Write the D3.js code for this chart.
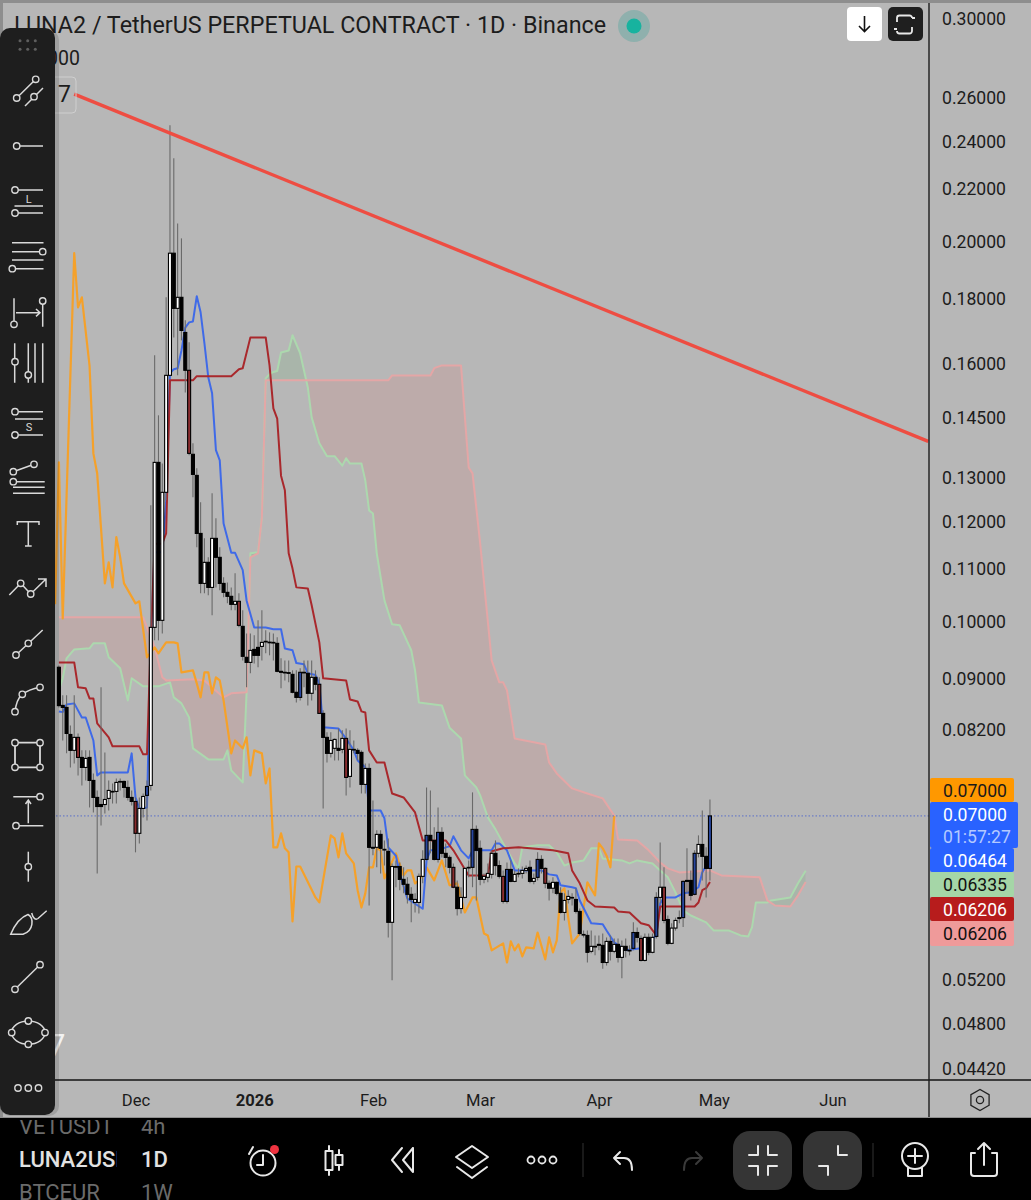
<!DOCTYPE html>
<html>
<head>
<meta charset="utf-8">
<title>LUNA2USDT 1D</title>
<script src="https://cdn.jsdelivr.net/npm/d3@7/dist/d3.min.js"></script>
<style>
html, body { margin: 0; padding: 0; background: #000; }
svg { display: block; font-family: Roboto, sans-serif; }
</style>
</head>
<body>
<div id="chart"></div>
<script>
// every list of days counts from 1 Dec 2025 (day 0)
var firstCandleDay = -20;

var opens = [
  .0918,.08563,.08532,.08121,.07889,.08078,.07788,.07647,.07788,.07468,
  .07240,.07147,.07147,.07227,.07320,.07320,.07454,.07454,.07373,.07240,
  .07187,.06781,.07096,.07267,.07400,.09873,.13339,.10000,.12630,.15634,
  .19535,.17665,.18025,.16906,.15779,.13537,.13026,.11718,.10697,.11116,
  .10619,.11613,.11218,.10697,.10524,.10448,.10296,.10353,.09891,.09348,
  .09262,.09484,.09519,.09536,.09621,.09610,.09606,.09589,.09112,.09096,
  .09090,.09062,.08770,.08689,.09096,.09079,.08754,.09013,.08899,.08439,
  .08078,.07846,.07918,.07918,.07903,.08063,.07523,.07903,.07889,.07860,
  .07414,.07633,.06610,.06610,.06768,.06586,.06562,.05765,.06383,.06383,
  .06235,.06179,.06067,.05978,.05978,.06269,.06466,.06756,.06694,.06466,
  .06793,.06538,.06490,.06373,.06146,.05912,.06033,.06373,.06373,.06830,
  .06598,.06235,.06258,.06292,.06538,.06394,.06269,.05989,.06349,.06212,
  .06303,.06303,.06338,.06373,.06212,.06258,.06466,.06361,.06190,.06135,
  .06201,.06078,.05870,.06011,.06033,.06011,.05881,.05639,.05629,.05468,
  .05518,.05528,.05528,.05358,.05568,.05468,.05538,.05408,.05518,.05478,
  .05498,.05659,.05598,.05378,.05609,.05458,.05619,.06033,.06146,.05795,
  .05548,.05705,.05805,.05815,.06223,.06223,.06067,.06538,.06645,.06502,
  .06361
];
var highs = [
  .0921,.08722,.08722,.08256,.08722,.08136,.07889,.07889,.07889,.07564,
  .07333,.08850,.07860,.07468,.07427,.07496,.07496,.07468,.07468,.07333,
  .07240,.07240,.07293,.07468,.12334,.16215,.14535,.13315,.18025,.24667,
  .23225,.20627,.20071,.17283,.16603,.13810,.13195,.12402,.11613,.11218,
  .12607,.12045,.11424,.10816,.10717,.10619,.10895,.10505,.10184,.09765,
  .09765,.09730,.10000,.10184,.09819,.09783,.09765,.09696,.09331,.09296,
  .09296,.09129,.09129,.09162,.09296,.09296,.09296,.09129,.09013,.08486,
  .08153,.08153,.08063,.08211,.08183,.08211,.08183,.08033,.07918,.07889,
  .07703,.07703,.07200,.06818,.06818,.06694,.06719,.06419,.06454,.06430,
  .06373,.06258,.06146,.06078,.06303,.06574,.07373,.07333,.06856,.07109,
  .06856,.06658,.06514,.06419,.06223,.06146,.06373,.06454,.07307,.06880,
  .06694,.06303,.06419,.06574,.06694,.06454,.06338,.06430,.06454,.06338,
  .06361,.06383,.06394,.06454,.06303,.06550,.06514,.06373,.06223,.06258,
  .06212,.06146,.06078,.06113,.06078,.06135,.05912,.05679,.05679,.05679,
  .05629,.05629,.05649,.05608,.05629,.05598,.05598,.05578,.05598,.05528,
  .05765,.05710,.05629,.05649,.05649,.05649,.06089,.06669,.06373,.05837,
  .05755,.05815,.05892,.06223,.06598,.06338,.06574,.06756,.07070,.06610,
  .07213
];
var lows = [
  .0853,.08033,.07846,.07647,.07703,.07537,.07400,.07468,.07109,.07045,
  .06303,.06880,.07032,.07070,.07160,.07160,.07333,.07240,.07200,.07134,
  .06550,.06658,.06981,.06943,.07333,.09642,.09642,.09765,.12447,.15634,
  .16755,.15634,.16664,.15150,.13515,.12515,.11424,.10505,.10505,.10467,
  .10092,.10619,.10563,.10429,.10315,.10184,.10184,.09873,.09296,.08850,
  .09079,.09245,.09179,.09296,.09416,.09382,.09296,.09096,.08834,.08963,
  .08931,.08754,.08610,.08641,.08850,.08563,.08641,.08802,.08439,.07096,
  .07717,.07788,.07745,.07745,.07846,.07267,.07373,.07846,.07745,.07293,
  .07293,.05945,.06514,.06373,.06303,.06394,.05609,.05186,.06146,.06113,
  .06078,.05967,.05765,.05870,.05859,.06190,.06454,.06538,.06454,.06430,
  .06490,.06373,.06303,.06135,.05837,.05859,.06022,.06258,.06146,.06000,
  .06168,.06190,.06201,.06246,.06280,.06246,.05967,.05967,.06201,.06201,
  .06258,.06246,.06303,.06190,.06179,.06223,.06303,.06135,.06000,.06078,
  .06056,.05859,.05785,.05967,.05945,.05859,.05628,.05609,.05358,.05448,
  .05428,.05478,.05298,.05328,.05378,.05448,.05358,.05206,.05408,.05428,
  .05478,.05558,.05368,.05368,.05428,.05448,.05598,.05967,.05755,.05528,
  .05538,.05679,.05755,.05715,.06078,.06000,.06056,.06490,.06223,.06033,
  .06223
];
var closes = [
  .0856,.08532,.08136,.07889,.08078,.07788,.07647,.07774,.07468,.07240,
  .07121,.07121,.07213,.07333,.07315,.07441,.07450,.07373,.07240,.07187,
  .06781,.07096,.07253,.07386,.09873,.13339,.10000,.12630,.15634,.19535,
  .17665,.18025,.16968,.15779,.13560,.13050,.11718,.10697,.11116,.10619,
  .11613,.11218,.10697,.10524,.10448,.10296,.10353,.09909,.09365,.09262,
  .09467,.09382,.09382,.09606,.09625,.09606,.09600,.09112,.09096,.09090,
  .09079,.08770,.08689,.09096,.09090,.08754,.09013,.08899,.08439,.08078,
  .07846,.08033,.08048,.07889,.08063,.07509,.07903,.07900,.07846,.07414,
  .07633,.06610,.06600,.06768,.06598,.06578,.05765,.06383,.06375,.06235,
  .06179,.06067,.06011,.06011,.06269,.06466,.06756,.06694,.06466,.06793,
  .06538,.06490,.06373,.06146,.05912,.06033,.06361,.06370,.06830,.06574,
  .06235,.06269,.06303,.06538,.06394,.06269,.05989,.06349,.06212,.06292,
  .06300,.06338,.06361,.06212,.06246,.06466,.06361,.06190,.06135,.06201,
  .06078,.05870,.06000,.06044,.06030,.05881,.05649,.05635,.05458,.05518,
  .05515,.05538,.05358,.05568,.05468,.05538,.05408,.05518,.05478,.05475,
  .05659,.05609,.05378,.05609,.05458,.05609,.06033,.06146,.05785,.05548,
  .05705,.05785,.05815,.06212,.06212,.06056,.06538,.06645,.06502,.06361,
  .07000
];
var redDays = [-15, 0, 14, 27, 48, 55, 83, 96, 107, 132, 138];
var blueDays = [3, 43, 76, 79, 88, 97, 105, 130, 136, 143, 146, 150];

// ichimoku lines, [day, price] read at the corners of each line
var conversion = [[-20,.08470],[-19,.08459],[-18,.08579],[-16,.08595],[-14,.08377],[-13,.08377],[-11,.08033],[-10,.07537],[-9,.07578],[-2,.07578],[-1,.07846],[0,.07240],[1,.07096],[3,.07109],[4,.09680],[5,.11320],[7,.11320],[8,.12400],[9,.15700],[10,.15808],[11,.15837],[12,.16360],[13,.17058],[14,.17220],[15,.17250],[16,.18060],[17,.17540],[18,.16570],[19,.15580],[20,.15130],[21,.13640],[22,.13390],[23,.11930],[25,.11310],[26,.11310],[28,.10960],[29,.10370],[31,.09870],[34,.09870],[36,.09840],[38,.09840],[39,.09500],[41,.09470],[42,.09250],[44,.09230],[45,.09080],[47,.09050],[48,.08910],[49,.08230],[53,.08210],[55,.08060],[57,.07890],[58,.07745],[60,.07650],[61,.07070],[64,.07070],[65,.06970],[66,.06610],[68,.06510],[69,.06300],[71,.06020],[75,.05910],[76,.06454],[77,.06574],[79,.06574],[81,.06610],[82,.06622],[83,.06745],[85,.06574],[87,.06478],[88,.06574],[93,.06574],[94,.06658],[95,.06658],[97,.06574],[99,.06338],[106,.06338],[108,.06292],[110,.06280],[111,.06168],[114,.06146],[115,.06135],[116,.06000],[119,.05755],[122,.05745],[123,.05679],[125,.05558],[128,.05478],[132,.05498],[135,.05598],[136,.05629],[137,.05967],[138,.06033],[141,.06033],[143,.06078],[145,.06089],[147,.06146],[148,.06315],[150,.06464]];
var baseLine = [[-20,.09262],[-16,.09262],[-15,.08850],[-13,.08834],[-12,.08673],[-11,.08673],[-10,.08287],[-7,.08078],[-6,.07947],[1,.07947],[2,.07832],[3,.07832],[4,.09680],[5,.11500],[7,.11500],[8,.11720],[9,.15492],[15,.15492],[16,.15610],[25,.15610],[27,.15808],[28,.15837],[30,.16755],[34,.16755],[35,.15920],[36,.14720],[37,.14450],[38,.13020],[39,.12680],[40,.11300],[41,.10990],[42,.10620],[45,.10600],[46,.10280],[48,.09606],[49,.08997],[55,.08963],[56,.08657],[58,.08625],[59,.08470],[60,.08454],[61,.07889],[63,.07717],[65,.07717],[67,.07293],[70,.07240],[73,.07045],[75,.06694],[81,.06694],[83,.06574],[87,.06280],[92,.06280],[93,.06562],[96,.06598],[100,.06610],[109,.06574],[113,.06538],[114,.06338],[116,.06190],[118,.06000],[120,.05934],[125,.05923],[126,.05881],[129,.05870],[132,.05755],[134,.05735],[136,.05629],[137,.05934],[146,.05934],[147,.05978],[148,.06113],[149,.06135],[150,.06206]];
var laggingSpan = [[-21,.10300],[-20,.13339],[-19,.10034],[-16,.19535],[-15,.17694],[-14,.18025],[-12,.15910],[-11,.13560],[-10,.13070],[-8,.10697],[-7,.11116],[-6,.10619],[-5,.11640],[-4,.11218],[-3,.10697],[0,.10315],[1,.10353],[3,.09348],[5,.09519],[6,.09416],[8,.09606],[10,.09606],[11,.09589],[12,.09096],[15,.09129],[16,.08915],[17,.08689],[18,.09096],[19,.09096],[20,.08754],[21,.09013],[22,.08963],[23,.08641],[25,.07846],[26,.08033],[28,.07918],[29,.08078],[30,.07537],[31,.07889],[33,.07846],[34,.07427],[35,.07633],[36,.06610],[37,.06610],[38,.06781],[39,.06598],[40,.06550],[41,.05775],[42,.06383],[43,.06383],[47,.06033],[48,.05978],[51,.06756],[52,.06719],[53,.06490],[54,.06781],[55,.06538],[57,.06419],[58,.06113],[59,.05923],[60,.06078],[61,.06373],[62,.06373],[63,.06598],[64,.06574],[65,.06246],[68,.06538],[70,.06280],[71,.06338],[72,.06338],[73,.06190],[74,.06223],[76,.06373],[78,.06223],[80,.06454],[82,.06168],[84,.06190],[86,.05870],[88,.06033],[89,.06033],[91,.05649],[92,.05629],[93,.05478],[96,.05548],[97,.05358],[98,.05568],[99,.05478],[100,.05538],[101,.05418],[102,.05508],[104,.05498],[105,.05659],[107,.05388],[108,.05609],[109,.05458],[110,.05578],[111,.06089],[112,.06135],[113,.05815],[114,.05548],[116,.05649],[118,.06201],[120,.06056],[121,.06658],[122,.06598],[123,.06510],[124,.06373],[125,.07000]];
var leadingA = [[-20,.08802],[-19,.08997],[-18,.09331],[-16,.09484],[-12,.09502],[-11,.09589],[-8,.09589],[-7,.09348],[-4,.09162],[-2,.08641],[-1,.08997],[2,.08866],[6,.08866],[9,.08931],[10,.08689],[12,.08595],[14,.08377],[15,.07918],[19,.07760],[23,.07760],[24,.07889],[25,.07606],[28,.07441],[29,.08754],[30,.11302],[32,.11322],[33,.12066],[34,.15550],[35,.15670],[36,.15730],[37,.15760],[38,.16300],[40,.16360],[41,.16820],[43,.16270],[45,.15290],[46,.14480],[48,.13810],[50,.13490],[52,.13490],[54,.13260],[55,.13440],[56,.13310],[59,.13310],[60,.12909],[61,.12220],[62,.12150],[63,.11300],[65,.10372],[67,.09930],[69,.09910],[72,.09470],[73,.09129],[74,.08610],[80,.08563],[82,.08222],[85,.08063],[86,.07537],[89,.07373],[90,.07267],[92,.06981],[94,.06830],[96,.06658],[99,.06419],[100,.06361],[101,.06610],[105,.06634],[108,.06634],[110,.06550],[112,.06394],[114,.06430],[117,.06454],[119,.06598],[121,.06598],[122,.06478],[127,.06454],[129,.06419],[131,.06454],[135,.06419],[137,.06338],[139,.06258],[141,.06089],[143,.05892],[145,.05837],[149,.05765],[151,.05679],[155,.05679],[158,.05629],[160,.05619],[161,.05715],[162,.05978],[165,.05978],[166,.06000],[171,.06033],[173,.06190],[175,.06335]];
var leadingB = [[-20,.10055],[2,.10055],[5,.09519],[7,.09013],[8,.08963],[15,.08980],[18,.08963],[23,.08689],[25,.08754],[29,.08770],[30,.11218],[32,.11302],[33,.12066],[34,.15492],[66,.15492],[67,.15630],[77,.15630],[78,.15840],[80,.15920],[85,.15920],[87,.13215],[88,.13075],[90,.11508],[93,.09296],[95,.08931],[96,.08931],[97,.08802],[99,.08063],[107,.07975],[108,.07717],[110,.07564],[114,.07360],[118,.07293],[122,.07227],[125,.07006],[126,.06706],[131,.06694],[134,.06574],[137,.06430],[139,.06361],[142,.06315],[150,.06338],[153,.06280],[163,.06258],[165,.06000],[167,.05945],[171,.05934],[173,.06056],[175,.06206]];
var trendDays = [-15.3, 207.2];
var trendPrices = [.2611, .1386];

var lastPrice = 0.07;
var yTicks = [.3,.26,.24,.22,.2,.18,.16,.145,.13,.12,.11,.1,.09,.082,.052,.048,.0442];
var monthTicks = ['2025-12-01','2026-01-01','2026-02-01','2026-03-01','2026-04-01','2026-05-01','2026-06-01'];
var monthLabels = ['Dec','2026','Feb','Mar','Apr','May','Jun'];
var tagTexts = ['0.07000', '0.07000', '0.06464', '0.06335', '0.06206', '0.06206'];
var tagFills = ['#ff9800', '#2962ff', '#2962ff', '#a5d6a7', '#b71c1c', '#ef9a9a'];
var tagInks = ['#1a1a1a', '#fff', '#fff', '#111', '#fff', '#111'];
var tagHeights = [24, 46, 24, 25, 24, 25];

var W = 1031, H = 1200;
var plotRight = 929, axisY = 1080;

var dayDate = function (d) { return d3.utcDay.offset(new Date(Date.UTC(2025, 11, 1)), d); };
var x = d3.scaleUtc().domain([dayDate(0), dayDate(182)]).range([135.5, 832.5]);
var y = d3.scaleLog().domain([.3, .0442]).range([18, 1068]);
var px = function (d) { return x(dayDate(d)); };

var svg = d3.select('#chart').append('svg').attr('width', W).attr('height', H);
var defs = svg.append('defs');

svg.append('rect').attr('width', W).attr('height', H).attr('fill', '#000');
svg.append('rect').attr('width', W).attr('height', 1118).attr('fill', '#8e8e8e');
svg.append('rect').attr('x', 3).attr('y', 3).attr('width', W - 3).attr('height', 1114).attr('fill', '#b7b7b7');

defs.append('clipPath').attr('id', 'plot').append('rect')
    .attr('x', 3).attr('y', 3).attr('width', plotRight - 3).attr('height', axisY - 3);

var plot = svg.append('g').attr('clip-path', 'url(#plot)');

// cloud, two fills cut out against the other span
var lineOf = d3.line().x(function (d) { return px(d[0]); }).y(function (d) { return y(d[1]); });
var areaTo = function (edge) {
    return d3.area().x(function (d) { return px(d[0]); }).y0(edge).y1(function (d) { return y(d[1]); });
};
defs.append('clipPath').attr('id', 'aboveA').append('path').attr('d', areaTo(0)(leadingA));
defs.append('clipPath').attr('id', 'belowA').append('path').attr('d', areaTo(H)(leadingA));
plot.append('path').attr('d', areaTo(H)(leadingB)).attr('clip-path', 'url(#aboveA)')
    .attr('fill', 'rgba(244,67,54,0.1)');
plot.append('path').attr('d', areaTo(0)(leadingB)).attr('clip-path', 'url(#belowA)')
    .attr('fill', 'rgba(76,175,80,0.12)');

var drawLine = function (data, colour, width) {
    plot.append('path').attr('d', lineOf(data)).attr('fill', 'none')
        .attr('stroke', colour).attr('stroke-width', width).attr('stroke-linejoin', 'round');
};
drawLine(leadingA, '#acd8ae', 2);
drawLine(leadingB, '#e4a6a6', 2);
drawLine(laggingSpan, '#f5a12a', 2.2);

plot.append('line')
    .attr('x1', 56).attr('x2', plotRight).attr('y1', y(lastPrice)).attr('y2', y(lastPrice))
    .attr('stroke', '#5a6fc8').attr('stroke-width', 1).attr('stroke-dasharray', '1.5 2');

drawLine(conversion, '#3f6ae8', 2);
drawLine(baseLine, '#a9282c', 2);

// candles
var candles = opens.map(function (o, i) {
    var day = firstCandleDay + i;
    return { day: day, o: o, h: highs[i], l: lows[i], c: closes[i] };
});
var bodyFill = function (d) {
    if (redDays.indexOf(d.day) >= 0) return '#8a2d2f';
    if (blueDays.indexOf(d.day) >= 0) return '#28479f';
    return d.c >= d.o ? '#fff' : '#000';
};
plot.append('g').selectAll('line').data(candles).enter().append('line')
    .attr('x1', function (d) { return px(d.day); })
    .attr('x2', function (d) { return px(d.day); })
    .attr('y1', function (d) { return y(d.h); })
    .attr('y2', function (d) { return y(d.l); })
    .attr('stroke', '#6a6a6a').attr('stroke-width', 1.1);
plot.append('g').selectAll('rect').data(candles).enter().append('rect')
    .attr('x', function (d) { return px(d.day) - 1.5; })
    .attr('width', 3)
    .attr('y', function (d) { return y(Math.max(d.o, d.c)); })
    .attr('height', function (d) { return Math.max(0.6, Math.abs(y(d.o) - y(d.c))); })
    .attr('fill', bodyFill)
    .attr('stroke', '#000').attr('stroke-width', 1.1);

plot.append('line')
    .attr('x1', px(trendDays[0])).attr('y1', y(trendPrices[0]))
    .attr('x2', px(trendDays[1])).attr('y2', y(trendPrices[1]))
    .attr('stroke', '#ee4d42').attr('stroke-width', 3.4);

// axes
var yAxis = d3.axisRight(y).tickValues(yTicks).tickSize(0).tickPadding(13)
    .tickFormat(function (d) { return d.toFixed(5); });
var yG = svg.append('g').attr('transform', 'translate(' + plotRight + ',0)').call(yAxis);
yG.select('.domain').remove();
yG.selectAll('text').attr('fill', '#1c1c1c').attr('dy', '0.38em').style('font-size', '17.6px').style('font-family', 'Roboto');

var monthDates = monthTicks.map(function (s) { return new Date(s); });
var xAxis = d3.axisBottom(x).tickValues(monthDates).tickSize(0).tickPadding(14)
    .tickFormat(function (d, i) { return monthLabels[i]; });
var xG = svg.append('g').attr('transform', 'translate(0,' + axisY + ')').call(xAxis);
xG.select('.domain').remove();
xG.selectAll('text').attr('fill', '#1c1c1c').style('font-size', '16.6px').style('font-family', 'Roboto')
    .style('font-weight', function (d, i) { return monthLabels[i] === '2026' ? 700 : 400; });

svg.append('line').attr('x1', 0).attr('x2', W).attr('y1', axisY).attr('y2', axisY)
    .attr('stroke', '#3c3c3c').attr('stroke-width', 2);
svg.append('line').attr('x1', plotRight).attr('x2', plotRight).attr('y1', 3).attr('y2', 1117)
    .attr('stroke', '#1c1c1c').attr('stroke-width', 1.4);

// price tags on the scale
var tagTop = y(lastPrice) - 38;
var tagG = svg.append('g');
tagTexts.forEach(function (t, i) {
    tagG.append('rect').attr('x', 930).attr('y', tagTop).attr('rx', 2)
        .attr('width', i === 1 ? 88 : 84).attr('height', tagHeights[i]).attr('fill', tagFills[i]);
    tagG.append('text').attr('x', 943).attr('y', tagTop + 19.5).attr('fill', tagInks[i])
        .style('font-size', '17.6px').text(t);
    if (i === 1) {
        tagG.append('text').attr('x', 943).attr('y', tagTop + 41).attr('fill', '#b4c9ff')
            .style('font-size', '17.6px').text('01:57:27');
    }
    tagTop += tagHeights[i];
});

// title row
svg.append('text').attr('x', 14).attr('y', 33).attr('fill', '#1c1c1c')
    .style('font-size', '23.3px').text('LUNA2 / TetherUS PERPETUAL CONTRACT · 1D · Binance');
svg.append('circle').attr('cx', 634).attr('cy', 26).attr('r', 16).attr('fill', '#8fb0ad');
svg.append('circle').attr('cx', 634).attr('cy', 26).attr('r', 7.5).attr('fill', '#17b39f');
svg.append('text').attr('x', 47).attr('y', 65).attr('fill', '#1c1c1c').style('font-size', '19.5px').text('000');
svg.append('rect').attr('x', 48).attr('y', 77).attr('width', 28).attr('height', 36).attr('rx', 4)
    .attr('fill', 'none').attr('stroke', '#cfcfcf').attr('stroke-width', 1);
svg.append('text').attr('x', 58).attr('y', 102).attr('fill', '#1c1c1c').style('font-size', '23px').text('7');
svg.append('text').attr('x', 48).attr('y', 1056).attr('fill', '#f2f2f2').style('font-size', '31px').text('7');

svg.append('rect').attr('x', 847).attr('y', 7).attr('width', 35).attr('height', 34).attr('rx', 4).attr('fill', '#fff');
svg.append('path').attr('d', 'M864.5 16v15M859 26l5.5 5.5 5.5-5.5').attr('fill', 'none')
    .attr('stroke', '#111').attr('stroke-width', 1.6);
svg.append('rect').attr('x', 888).attr('y', 7).attr('width', 35).attr('height', 34).attr('rx', 5).attr('fill', '#1f1f1f');
svg.append('path').attr('d', 'M897 22v-4a2.500 2.500 0 0 1 2.500-2.500h10a2.500 2.500 0 0 1 2.500 2.500M912 18h3M912 27v4a2.500 2.500 0 0 1-2.500 2.500h-10a2.500 2.500 0 0 1-2.500-2.500M897 29h-3')
    .attr('fill', 'none').attr('stroke', '#e8e8e8').attr('stroke-width', 1.8);

var hexR = 10.5;
var hexPts = d3.range(6).map(function (k) {
    var a = Math.PI / 6 + k * Math.PI / 3;
    return [980 + hexR * Math.cos(a), 1100 + hexR * Math.sin(a)];
});
svg.append('path').attr('d', 'M' + hexPts.join('L') + 'Z').attr('fill', 'none').attr('stroke', '#222').attr('stroke-width', 1.3);
svg.append('circle').attr('cx', 980).attr('cy', 1100).attr('r', 3.6).attr('fill', 'none').attr('stroke', '#222').attr('stroke-width', 1.3);

// drawing tools panel
var bar = svg.append('g');
bar.append('rect').attr('x', 0).attr('y', 30).attr('width', 59).attr('height', 1086).attr('rx', 10).attr('fill', 'rgba(0,0,0,0.13)');
bar.append('rect').attr('x', 0).attr('y', 28).attr('width', 55).attr('height', 1087).attr('rx', 10).attr('fill', '#1e1e1e');

var ink = '#d9d9d9';
var pathIcon = function (d, w) {
    bar.append('path').attr('d', d).attr('fill', 'none').attr('stroke', ink).attr('stroke-width', w || 1.5);
};
var ring = function (pts) {
    pts.forEach(function (p) {
        bar.append('circle').attr('cx', p[0]).attr('cy', p[1]).attr('r', 3.2)
            .attr('fill', '#1e1e1e').attr('stroke', ink).attr('stroke-width', 1.4);
    });
};
var letter = function (s, cx, cy) {
    bar.append('text').attr('x', cx).attr('y', cy).attr('text-anchor', 'middle').attr('fill', ink)
        .style('font-size', '11px').text(s);
};
[[20, 40.7], [27.7, 40.7], [35.3, 40.7], [20, 49.3], [27.7, 49.3], [35.3, 49.3]].forEach(function (p) {
    bar.append('circle').attr('cx', p[0]).attr('cy', p[1]).attr('r', 1.5).attr('fill', '#5f5f5f');
});
pathIcon('M16.700 98L35.700 79.300M25 106L43 88'); ring([[16.7, 98], [35.7, 79.3], [34, 96.7]]);
pathIcon('M16.700 146H43'); ring([[16.7, 146]]);
pathIcon('M15 190H43M14.500 206H43M15 213H43'); ring([[15, 190], [15, 213]]); letter('L', 28.7, 203);
pathIcon('M12 242.700H43.500M12 251.700H42.700M12 260H43.500M12.300 268.700H43.500'); ring([[42.7, 251.7], [12.3, 268.7]]);
pathIcon('M14 298.300V324M42.700 301V326.700M16 312.700H40M36 309L40 312.700L36 316.400'); ring([[14, 324.3], [42.7, 301]]);
pathIcon('M14.700 343.300V382.700M28.300 343.300V382.700M35 343.300V382.700M42.700 343.300V382.700'); ring([[15, 361.7], [28.3, 375]]);
pathIcon('M15 411.700H43M15 419H43M15 435H43'); ring([[15, 411.7], [15, 435]]); letter('S', 29, 431);
pathIcon('M13.300 471.700L34 464.300M13 481.700H44.700M13 487.300H44.700M13 493.300H44.700'); ring([[34, 464.3], [13.3, 471.7], [13.3, 481.7]]);
pathIcon('M17.300 525V521.700H39V525M28.300 521.700V546M25 546H31.700');
pathIcon('M9.300 595L20.700 583.300L30.700 594L46 579M38 579H46V587'); ring([[20.7, 583.3], [30.7, 594]]);
pathIcon('M16 655L42.700 630'); ring([[16, 655], [28.3, 643.3]]);
pathIcon('M15 711.700C16 703 19 697 22.300 694.300C28 690 34 688.500 40 687.300'); ring([[15, 711.7], [22.3, 694.3], [40, 687.3]]);
pathIcon('M15 742.700H40V767.300H15Z', 1.8); ring([[15, 742.7], [40, 742.7], [15, 767.3], [40, 767.3]]);
pathIcon('M13.300 796.700H40M16 825.700H43.300M28.300 823.300V801M25.500 804L28.300 800L31 804'); ring([[40, 796.7], [16, 825.7]]);
pathIcon('M28.300 851.700V881.700'); ring([[28.3, 866.7]]);
pathIcon('M10.700 934.300C15 924 21 917 28 914.500C34 918 34 931 23 934.300ZM31.700 913C33 919 36 920 38 918.500L46.700 910.700');
pathIcon('M15 989.300L40 964.700'); ring([[15, 989.3], [40, 964.7]]);
bar.append('ellipse').attr('cx', 28.3).attr('cy', 1032.6).attr('rx', 16.7).attr('ry', 11.7)
    .attr('fill', 'none').attr('stroke', ink).attr('stroke-width', 1.5);
ring([[28.3, 1021], [45, 1032.6], [28.3, 1044.3], [11.7, 1032.6]]);
ring([[18, 1088], [28.3, 1088], [38.5, 1088]]);

// phone bottom bar
var nav = svg.append('g');
defs.append('clipPath').attr('id', 'symbols').append('rect').attr('x', 0).attr('y', 1120).attr('width', 117).attr('height', 80);
defs.append('clipPath').attr('id', 'frames').append('rect').attr('x', 130).attr('y', 1120).attr('width', 60).attr('height', 80);
var symbols = nav.append('g').attr('clip-path', 'url(#symbols)');
var frames = nav.append('g').attr('clip-path', 'url(#frames)');
[['VETUSDT', '4h', 1134, '#6b6b6b', 400], ['LUNA2USDT', '1D', 1167, '#e2e2e2', 500], ['BTCEUR', '1W', 1200, '#6b6b6b', 400]].forEach(function (r) {
    symbols.append('text').attr('x', 19).attr('y', r[2]).attr('fill', r[3]).style('font-weight', r[4])
        .style('font-size', '22px').text(r[0]);
    frames.append('text').attr('x', 141).attr('y', r[2]).attr('fill', r[3]).style('font-weight', r[4])
        .style('font-size', '22px').text(r[1]);
});

var white = '#e8e8e8';
var navPath = function (d, colour) {
    nav.append('path').attr('d', d).attr('fill', 'none').attr('stroke', colour || white)
        .attr('stroke-width', 2).attr('stroke-linejoin', 'round').attr('stroke-linecap', 'round');
};
nav.append('circle').attr('cx', 263).attr('cy', 1163).attr('r', 12.5).attr('fill', 'none').attr('stroke', white).attr('stroke-width', 2);
navPath('M263 1155V1165H257M249 1154L253 1147');
nav.append('circle').attr('cx', 274.5).attr('cy', 1149.5).attr('r', 4.5).attr('fill', '#ef3340');
navPath('M329 1146V1151M325.500 1151H332.500V1170H325.500ZM329 1170V1175M339 1150V1155M335.500 1155H342.500V1165H335.500ZM339 1165V1170');
navPath('M402 1148L392 1160L402 1172M413 1148L403 1160L413 1172M413 1148V1172');
navPath('M472 1146L488 1157L472 1168L456 1157ZM457 1167L472 1178L487 1167');
[531, 542, 553].forEach(function (cx) {
    nav.append('circle').attr('cx', cx).attr('cy', 1160).attr('r', 3.5).attr('fill', 'none').attr('stroke', white).attr('stroke-width', 1.8);
});
nav.append('line').attr('x1', 583).attr('x2', 583).attr('y1', 1143).attr('y2', 1177).attr('stroke', '#333');
navPath('M620 1152L614 1158L620 1164M614 1158H624C630 1158 632 1163 632 1170');
navPath('M696 1152L702 1158L696 1164M702 1158H692C686 1158 684 1163 684 1170', '#3a3a3a');
nav.append('rect').attr('x', 733).attr('y', 1131).attr('width', 59).attr('height', 59).attr('rx', 17).attr('fill', '#353535');
nav.append('rect').attr('x', 803).attr('y', 1131).attr('width', 59).attr('height', 59).attr('rx', 17).attr('fill', '#353535');
navPath('M758 1146V1155H749M768 1146V1155H777M758 1175V1166H749M768 1175V1166H777');
navPath('M838 1146V1155H847M819 1166H828V1175');
nav.append('line').attr('x1', 873).attr('x2', 873).attr('y1', 1143).attr('y2', 1177).attr('stroke', '#333');
nav.append('circle').attr('cx', 915).attr('cy', 1156).attr('r', 13).attr('fill', 'none').attr('stroke', white).attr('stroke-width', 2);
navPath('M908 1168V1176H922V1168M915 1149V1163M908 1156H922');
navPath('M975 1153H971V1173C971 1175 972 1176 974 1176H994C996 1176 997 1175 997 1173V1153H992M984 1165V1143M978 1149L984 1143L990 1149');
</script>
</body>
</html>
